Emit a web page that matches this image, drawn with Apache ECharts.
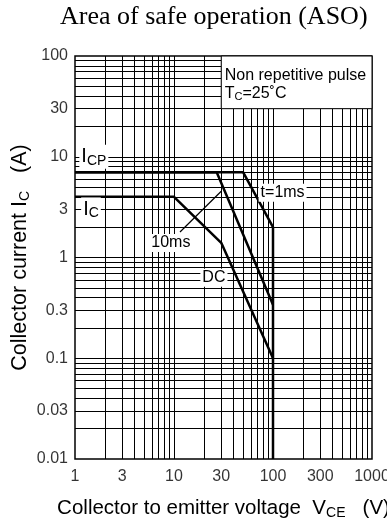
<!DOCTYPE html>
<html>
<head>
<meta charset="utf-8">
<script src="https://cdn.jsdelivr.net/npm/echarts@6/dist/echarts.min.js"></script>
<style>
  html, body { margin: 0; padding: 0; background: #fff; }
  #chart { width: 387px; height: 521px; }
</style>
</head>
<body>
<div id="chart"></div>
<script>
// Tick labels on the two logarithmic axes
const xTicks = [1, 3, 10, 30, 100, 300, 1000];
const xTickLabels = ['1', '3', '10', '30', '100', '300', '1000'];
const yTicks = [0.01, 0.03, 0.1, 0.3, 1, 3, 10, 30, 100];
const yTickLabels = ['0.01', '0.03', '0.1', '0.3', '1', '3', '10', '30', '100'];

// Safe operating area limits: V_CE (V) against I_C (A)
const vce1ms = [1, 50, 100, 100];
const ic1ms = [7, 7, 2, 0.01];
const vce10ms = [1, 27, 100];
const ic10ms = [7, 7, 0.34];
const vceDC = [1, 10, 30, 100];
const icDC = [4, 4, 1.4, 0.1];

const FONT = "'Liberation Sans', Arial, sans-serif";
const SERIF = "'Liberation Serif', 'Times New Roman', serif";

// Full log-paper grid: 1..9 in every decade, without the frame edges
const mantissas = [1, 2, 3, 4, 5, 6, 7, 8, 9];
function gridValues(decades, lo, hi) {
  const out = [];
  decades.forEach(d => mantissas.forEach(m => {
    const v = +(d * m).toPrecision(6);
    if (v > lo && v < hi) out.push(v);
  }));
  return out;
}
const xGrid = gridValues([1, 10, 100], 1, 1000);
const yGrid = gridValues([0.01, 0.1, 1, 10], 0.01, 100);

const subStyle = { fontSize: 14, lineHeight: 14, verticalAlign: 'bottom', fontFamily: FONT, color: '#000' };
const bigStyle = { fontSize: 20, lineHeight: 22, fontFamily: FONT, color: '#000' };
const txtStyle = { fontSize: 16, lineHeight: 18, fontFamily: FONT, color: '#000' };
const smallSub = { fontSize: 11, lineHeight: 11, verticalAlign: 'bottom', fontFamily: FONT, color: '#000' };

function limitCurve(name, xs, ys) {
  return {
    type: 'line', name: name,
    data: xs.map((x, i) => [x, ys[i]]),
    symbol: 'none', silent: true, clip: false, z: 3,
    lineStyle: { color: '#000', width: 2.5 }
  };
}

function annotation(text, coord, rich) {
  return {
    coord: coord,
    label: {
      show: true, position: 'inside', formatter: text,
      fontSize: 16, fontFamily: FONT, color: '#000',
      backgroundColor: '#fff', padding: [1, 2],
      rich: rich || {}
    }
  };
}

const chart = echarts.init(document.getElementById('chart'), null, { renderer: 'canvas' });

chart.setOption({
  animation: false,
  backgroundColor: '#fff',
  title: {
    text: 'Area of safe operation (ASO)',
    left: 60, top: 4, padding: 0,
    textStyle: { fontFamily: SERIF, fontSize: 26, fontWeight: 'normal', color: '#000', lineHeight: 26 }
  },
  grid: {
    left: 75, right: 15, top: 56, bottom: 62,
    outerBoundsMode: 'none', containLabel: false,
    show: true, borderColor: '#000', borderWidth: 1.5, backgroundColor: '#fff'
  },
  xAxis: {
    type: 'log', logBase: 10, min: 1, max: 1000,
    axisLine: { show: false }, axisTick: { show: false },
    axisLabel: { show: false }, splitLine: { show: false },
    name: '{t|Collector to emitter voltage  V}{s|CE}{t|   (V)}',
    nameLocation: 'middle', nameGap: 37,
    nameTextStyle: {
      rich: {
        t: { fontSize: 20.5, lineHeight: 24, fontFamily: FONT, color: '#000' },
        s: subStyle
      }
    }
  },
  yAxis: {
    type: 'log', logBase: 10, min: 0.01, max: 100,
    axisLine: { show: false }, axisTick: { show: false },
    axisLabel: { show: false }, splitLine: { show: false },
    name: '{t|Collector current I}{s|C}{t|   (A)}',
    nameLocation: 'middle', nameGap: 43, nameRotate: 90,
    nameTextStyle: {
      rich: {
        t: { fontSize: 21.5, lineHeight: 24, fontFamily: FONT, color: '#000' },
        s: subStyle
      }
    }
  },
  series: [
    {
      // log-paper grid lines
      type: 'line', data: [], silent: true, z: 1,
      markLine: {
        silent: true, symbol: 'none', z: 1, animation: false,
        label: { show: false },
        lineStyle: { color: '#000', width: 1, type: 'solid', opacity: 1 },
        data: xGrid.map(v => ({ xAxis: v })).concat(yGrid.map(v => ({ yAxis: v })))
      }
    },
    {
      // condition box in the top right corner
      type: 'line', data: [], silent: true, z: 2,
      markArea: {
        silent: true, z: 2,
        itemStyle: { color: '#fff', borderColor: '#000', borderWidth: 1, opacity: 1 },
        label: {
          show: true, position: 'insideTopLeft', distance: 4, padding: [7, 0, 0, 0],
          formatter: '{t|Non repetitive pulse}\n{t|T}{s|C}{t|=25˚C}',
          rich: { t: txtStyle, s: smallSub }
        },
        data: [[{ coord: [30, 30] }, { coord: [1000, 100] }]]
      }
    },
    limitCurve('1ms', vce1ms, ic1ms),
    limitCurve('10ms', vce10ms, ic10ms),
    limitCurve('DC', vceDC, icDC),
    {
      // curve labels and pointer
      type: 'line', data: [], silent: true, z: 5,
      markPoint: {
        silent: true, symbol: 'circle', symbolSize: 0, z: 6,
        data: [
          annotation('{m|I}{s|CP}', [1.55, 10], { m: bigStyle, s: subStyle }),
          annotation('{m|I}{s|C}', [1.45, 3], { m: bigStyle, s: subStyle }),
          annotation('t=1ms', [125, 4.4]),
          annotation('10ms', [9.3, 1.39]),
          annotation('DC', [25.3, 0.63])
        ]
      },
      markLine: {
        silent: true, z: 5, symbol: ['none', 'arrow'], symbolSize: [0, 10],
        label: { show: false },
        lineStyle: { color: '#000', width: 1.2, type: 'solid' },
        data: [[{ coord: [11.5, 1.79] }, { coord: [30, 4.55] }]]
      }
    },
    {
      // x tick labels
      type: 'scatter', silent: true, clip: false, symbolSize: 0,
      data: xTicks.map((v, i) => ({ value: [v, 0.01], name: xTickLabels[i] })),
      label: { show: true, position: 'bottom', distance: 10, formatter: p => p.name,
               fontSize: 16, fontFamily: FONT, color: '#000' }
    },
    {
      // y tick labels
      type: 'scatter', silent: true, clip: false, symbolSize: 0,
      data: yTicks.map((v, i) => ({ value: [1, v], name: yTickLabels[i] })),
      label: { show: true, position: 'left', distance: 7, formatter: p => p.name,
               fontSize: 16, fontFamily: FONT, color: '#000' }
    }
  ]
});
</script>
</body>
</html>
